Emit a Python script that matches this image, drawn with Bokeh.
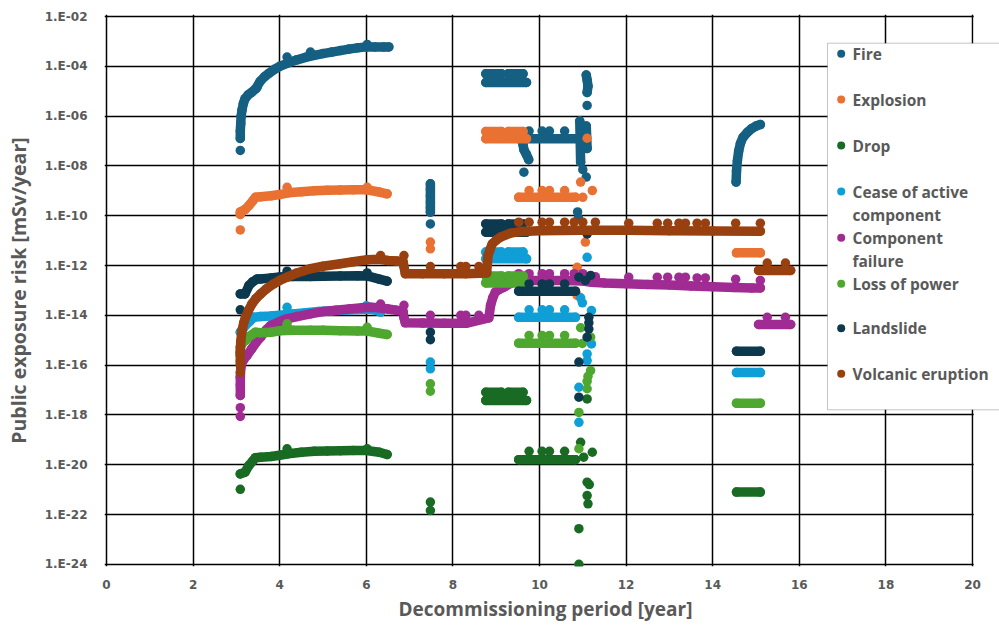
import math
from bokeh.plotting import figure
from bokeh.models import Range1d, FixedTicker, CustomJSTickFormatter, BoxAnnotation, Label, Title
from bokeh.embed import file_html
from bokeh.resources import INLINE

N = float("nan")

# ---------------- data (x in years, y as log10 of risk) ----------------
SERIES = ["Fire", "Explosion", "Drop", "Cease of active component", "Component failure",
          "Loss of power", "Landslide", "Volcanic eruption"]
COLORS = ["#156082", "#E97132", "#196B24", "#0F9ED5", "#A02B93", "#4EA72E", "#0D394E", "#994010"]

FIRE_RUN_X = [3.09, 3.09, 3.10, 3.11, 3.13, 3.16, 3.20, 3.27, 3.35, 3.45, 3.55, 3.65, 3.75, 3.88, 4.0, 4.2, 4.4,
              4.6, 4.8, 5.0, 5.2, 5.4, 5.6, 5.8, 6.0, 6.2, 6.4, 6.52, N,
              7.48, 7.48, 7.48, 7.48, 7.48, 7.48, N,
              8.76, 9.12, N, 9.28, 9.62, N, 8.76, 9.70, N,
              9.52, 10.87, N,
              9.60, 9.62, 9.64, 9.70, 9.75, N,
              10.93, 10.94, 10.95, N, 11.08, 11.10, N,
              11.08, 11.10, 11.12, 11.10, N,
              14.54, 14.55, 14.57, 14.60, 14.64, 14.70, 14.80, 14.90, 15.00, 15.10]
FIRE_RUN_LOG = [-6.9, -6.6, -6.3, -6.0, -5.75, -5.5, -5.3, -5.15, -5.05, -4.9, -4.6, -4.42, -4.28, -4.12, -4.0,
                -3.86, -3.74, -3.64, -3.56, -3.49, -3.43, -3.37, -3.31, -3.26, -3.22, -3.22, -3.22, -3.22, N,
                -8.72, -8.95, -9.2, -9.45, -9.68, -9.86, N,
                -4.3, -4.3, N, -4.3, -4.3, N, -4.65, -4.65, N,
                -6.91, -6.91, N,
                -6.95, -7.15, -7.35, -7.55, -7.75, N,
                -6.2, -7.0, -7.85, N, -6.4, -7.3, N,
                -4.35, -4.55, -4.8, -5.05, N,
                -8.65, -8.2, -7.8, -7.4, -7.1, -6.85, -6.65, -6.5, -6.4, -6.34]
FIRE_DOT_X = [3.09, 3.48, 4.17, 4.71, 6.02, 7.48, 9.76, 10.06, 10.23, 10.58, 9.64, 11.0, 11.08, 10.88, 10.9, 11.1]
FIRE_DOT_LOG = [-7.38, -4.84, -3.63, -3.43, -3.12, -10.33, -6.6, -6.6, -6.6, -6.6, -8.25, -8.15, -8.45, -9.85,
                -10.1, -5.57]

EXPL_RUN_X = [3.09, 3.09, 3.2, 3.29, 3.38, 3.44, 3.56, 3.8, 4.0, 4.2, 4.5, 4.8, 5.1, 5.4, 5.7, 6.0, 6.3, 6.48, N,
              8.76, 9.12, N, 9.28, 9.62, N, 8.76, 9.70, N,
              9.52, 10.83, N,
              14.55, 15.10]
EXPL_RUN_LOG = [-9.95, -9.85, -9.75, -9.59, -9.4, -9.26, -9.24, -9.2, -9.15, -9.08, -9.04, -9.0, -8.98, -8.97,
                -8.96, -8.96, -9.05, -9.12, N,
                -6.62, -6.62, N, -6.62, -6.62, N, -6.91, -6.91, N,
                -9.26, -9.26, N,
                -11.49, -11.49]
EXPL_DOT_X = [3.09, 4.17, 6.02, 7.48, 7.48, 9.76, 10.06, 10.23, 10.58, 11.1, 10.95, 11.22, 11.0, 11.06, 10.87, 10.87]
EXPL_DOT_LOG = [-10.57, -8.86, -8.86, -11.06, -11.33, -8.99, -8.99, -8.99, -8.99, -6.89, -8.65, -8.99, -9.26,
                -11.06, -12.07, -13.2]

DROP_RUN_X = [3.09, 3.2, 3.29, 3.38, 3.44, 3.56, 3.8, 4.0, 4.2, 4.5, 4.8, 5.1, 5.4, 5.7, 6.0, 6.3, 6.48, N,
              8.76, 9.12, N, 9.28, 9.62, N, 8.76, 9.70, N,
              9.52, 10.83, N,
              14.55, 15.10]
DROP_RUN_LOG = [-20.37, -20.3, -20.03, -19.85, -19.72, -19.7, -19.67, -19.62, -19.56, -19.5, -19.46, -19.45,
                -19.44, -19.43, -19.43, -19.5, -19.59, N,
                -17.09, -17.09, N, -17.09, -17.09, N, -17.42, -17.42, N,
                -19.8, -19.8, N,
                -21.1, -21.1]
DROP_DOT_X = [3.09, 4.17, 6.02, 7.48, 7.48, 9.76, 10.06, 10.23, 10.58, 11.1, 10.95, 11.02, 11.22, 11.1, 11.15,
              11.1, 11.12, 10.91, 10.91]
DROP_DOT_LOG = [-20.99, -19.36, -19.36, -21.5, -21.84, -19.46, -19.46, -19.46, -19.46, -17.36, -19.1, -19.7,
                -19.5, -20.7, -20.8, -21.24, -21.57, -22.57, -24.0]

CEASE_RUN_X = [3.09, 3.15, 3.21, 3.3, 3.4, 3.56, 3.8, 4.0, 4.3, 4.6, 4.9, 5.2, 5.5, 5.8, 6.0, 6.2, 6.33, N,
               8.76, 9.12, N, 9.28, 9.62, N, 8.76, 9.70, N,
               9.52, 10.83, N,
               14.55, 15.10]
CEASE_RUN_LOG = [-14.68, -14.55, -14.41, -14.25, -14.08, -14.05, -14.03, -14.0, -13.95, -13.9, -13.85, -13.82,
                 -13.8, -13.77, -13.75, -13.78, -13.87, N,
                 -11.46, -11.46, N, -11.46, -11.46, N, -11.73, -11.73, N,
                 -14.08, -14.08, N,
                 -16.3, -16.3]
CEASE_DOT_X = [4.17, 6.0, 7.48, 7.48, 9.76, 10.06, 10.23, 10.58, 11.1, 10.95, 10.99, 11.2, 11.2, 11.1, 11.1,
               10.91, 10.91]
CEASE_DOT_LOG = [-13.68, -13.62, -15.88, -16.15, -13.78, -13.78, -13.78, -13.78, -11.67, -13.3, -13.5, -13.81,
                 -15.15, -15.55, -15.82, -16.89, -18.3]

CF_RUN_X = [3.09, 3.09, 3.09, 3.1, 3.13, 3.18, 3.25, 3.35, 3.45, 3.56, 3.68, 3.79, 4.0, 4.17, 4.4, 4.71, 5.0, 5.3,
            5.6, 5.9, 6.1, 6.3, 6.5, 6.7, 6.85, 6.87, 6.9, 7.3, 7.8, 8.3, 8.83, 8.87, 8.92, 8.98, 9.08, 9.18,
            9.33, 9.48, 9.7, 10.0, 10.5, 11.0, 11.2, 11.5, 12.0, 12.5, 13.0, 13.5, 14.0, 14.5, 14.9, 15.1, N,
            15.06, 15.8]
CF_RUN_LOG = [-17.22, -16.8, -16.49, -16.15, -15.9, -15.75, -15.6, -15.35, -15.1, -14.88, -14.6, -14.41, -14.25,
              -14.14, -14.05, -13.94, -13.85, -13.8, -13.75, -13.7, -13.68, -13.7, -13.75, -13.8, -13.85, -14.1,
              -14.3, -14.31, -14.32, -14.32, -14.1, -13.6, -13.3, -13.07, -12.95, -12.87, -12.72, -12.62, -12.6,
              -12.6, -12.6, -12.62, -12.67, -12.7, -12.73, -12.76, -12.78, -12.82, -12.85, -12.88, -12.9, -12.9, N,
              -14.37, -14.37]
CF_DOT_X = [3.09, 3.09, 6.33, 6.87, 7.48, 8.18, 8.3, 8.6, 9.52, 9.76, 10.06, 10.23, 10.58, 10.8, 11.0, 11.29,
            12.06, 12.72, 12.96, 13.22, 13.37, 13.64, 13.83, 14.53, 15.1, 15.26, 15.68]
CF_DOT_LOG = [-17.71, -18.06, -13.55, -13.6, -14.0, -14.0, -14.0, -14.0, -12.33, -12.33, -12.33, -12.33, -12.33,
              -12.33, -12.33, -12.45, -12.47, -12.47, -12.47, -12.47, -12.47, -12.5, -12.5, -12.55, -12.6,
              -14.08, -14.08]

LP_RUN_X = [3.09, 3.09, 3.15, 3.21, 3.3, 3.44, 3.56, 3.8, 4.0, 4.3, 4.71, 5.0, 5.4, 5.8, 6.02, 6.3, 6.48, N,
            8.76, 9.12, N, 9.28, 9.62, N, 8.76, 9.70, N,
            9.52, 10.83, N,
            14.55, 15.10]
LP_RUN_LOG = [-15.6, -15.28, -15.1, -15.01, -14.85, -14.68, -14.7, -14.68, -14.62, -14.6, -14.6, -14.6, -14.62,
              -14.63, -14.63, -14.72, -14.77, N,
              -12.42, -12.42, N, -12.42, -12.42, N, -12.7, -12.7, N,
              -15.12, -15.12, N,
              -17.53, -17.53]
LP_DOT_X = [3.09, 4.17, 6.02, 7.48, 7.48, 9.76, 10.06, 10.23, 10.58, 10.95, 11.18, 10.99, 11.18, 11.12, 11.1,
            11.1, 10.91, 10.91]
LP_DOT_LOG = [-15.84, -14.34, -14.48, -16.75, -17.05, -14.81, -14.81, -14.81, -14.81, -14.5, -14.88, -15.13,
              -16.22, -16.45, -16.65, -16.95, -17.9, -19.36]

LS_RUN_X = [3.09, 3.2, 3.29, 3.38, 3.48, 3.56, 3.8, 4.0, 4.3, 4.71, 5.0, 5.4, 5.8, 6.02, 6.3, 6.48, N,
            8.76, 9.12, N, 9.28, 9.62, N, 8.76, 9.70, N,
            9.52, 10.83, N,
            14.55, 15.10]
LS_RUN_LOG = [-13.14, -13.14, -12.8, -12.65, -12.54, -12.54, -12.5, -12.46, -12.44, -12.44, -12.43, -12.42,
              -12.41, -12.42, -12.55, -12.63, N,
              -10.33, -10.33, N, -10.33, -10.33, N, -10.66, -10.66, N,
              -13.03, -13.03, N,
              -15.44, -15.44]
LS_DOT_X = [3.09, 4.17, 6.02, 7.48, 7.48, 9.76, 10.06, 10.23, 10.58, 10.91, 11.18, 11.06, 11.14, 11.14, 11.14,
            11.1, 10.91, 10.91, 11.1]
LS_DOT_LOG = [-13.78, -12.23, -12.3, -14.68, -14.98, -12.74, -12.74, -12.74, -12.74, -12.47, -12.4, -12.6,
              -14.08, -14.3, -14.55, -14.88, -15.88, -17.29, -10.73]

VE_RUN_X = [3.09, 3.09, 3.1, 3.13, 3.17, 3.21, 3.28, 3.36, 3.45, 3.56, 3.7, 3.86, 4.0, 4.17, 4.4, 4.71, 5.0, 5.4,
            5.7, 6.02, 6.3, 6.5, 6.7, 6.85, 6.87, 6.9, 7.3, 7.8, 8.3, 8.78, 8.81, 8.86, 8.91, 9.0, 9.1, 9.33, 9.6,
            10.0, 11.0, 12.0, 13.0, 14.0, 15.1, N,
            15.06, 15.8]
VE_RUN_LOG = [-16.0, -15.48, -15.05, -14.61, -14.3, -14.08, -13.8, -13.54, -13.33, -13.14, -12.93, -12.74, -12.6,
              -12.47, -12.3, -12.13, -12.03, -11.93, -11.85, -11.77, -11.75, -11.8, -11.82, -11.85, -12.05,
              -12.33, -12.33, -12.33, -12.33, -12.3, -11.6, -11.35, -11.13, -10.98, -10.86, -10.7, -10.63, -10.6,
              -10.58, -10.58, -10.6, -10.61, -10.62, N,
              -12.2, -12.2]
VE_DOT_X = [3.09, 6.33, 6.87, 7.48, 8.18, 8.3, 8.6, 9.52, 9.76, 10.06, 10.23, 10.58, 10.8, 11.0, 11.29, 12.06,
            12.72, 12.96, 13.22, 13.37, 13.64, 13.83, 14.53, 15.1, 15.26, 15.68]
VE_DOT_LOG = [-16.29, -11.6, -11.6, -12.04, -12.04, -12.04, -12.04, -10.26, -10.26, -10.26, -10.26, -10.26,
              -10.26, -10.26, -10.26, -10.3, -10.3, -10.3, -10.3, -10.3, -10.3, -10.3, -10.3, -10.3, -11.9, -11.9]

X_TICKS = [0, 2, 4, 6, 8, 10, 12, 14, 16, 18, 20]
Y_TICK_EXPONENTS = [-24, -22, -20, -18, -16, -14, -12, -10, -8, -6, -4, -2]

RUNS = [(FIRE_RUN_X, FIRE_RUN_LOG, FIRE_DOT_X, FIRE_DOT_LOG),
        (EXPL_RUN_X, EXPL_RUN_LOG, EXPL_DOT_X, EXPL_DOT_LOG),
        (DROP_RUN_X, DROP_RUN_LOG, DROP_DOT_X, DROP_DOT_LOG),
        (CEASE_RUN_X, CEASE_RUN_LOG, CEASE_DOT_X, CEASE_DOT_LOG),
        (CF_RUN_X, CF_RUN_LOG, CF_DOT_X, CF_DOT_LOG),
        (LP_RUN_X, LP_RUN_LOG, LP_DOT_X, LP_DOT_LOG),
        (LS_RUN_X, LS_RUN_LOG, LS_DOT_X, LS_DOT_LOG),
        (VE_RUN_X, VE_RUN_LOG, VE_DOT_X, VE_DOT_LOG)]


def pw(vals):
    return [N if (isinstance(v, float) and math.isnan(v)) else 10.0 ** v for v in vals]


# ---------------- layout (pixels on the page) ----------------
X0_PX, PX_PER_X = 106.0, 43.3          # x = 0 at 106 px, 43.3 px per year
Y0_PX, PX_PER_DEC = 16.0, 24.9         # 1E-02 at 16 px, 24.9 px per decade
FRAME_L, FRAME_R, FRAME_T, FRAME_B = 104, 999, 14, 566


def px_to_x(px):
    return (px - X0_PX) / PX_PER_X


def py_to_y(py):
    return 10.0 ** (-2.0 - (py - Y0_PX) / PX_PER_DEC)


p = figure(width=999, height=628,
           x_range=Range1d(px_to_x(FRAME_L), px_to_x(FRAME_R)),
           y_range=Range1d(py_to_y(FRAME_B), py_to_y(FRAME_T)),
           y_axis_type="log", output_backend="svg", toolbar_location=None,
           min_border_left=FRAME_L, min_border_right=999 - FRAME_R, min_border_top=FRAME_T,
           min_border_bottom=628 - FRAME_B)
p.outline_line_color = None

p.xaxis.ticker = FixedTicker(ticks=X_TICKS)
p.yaxis.ticker = FixedTicker(ticks=[10.0 ** e for e in Y_TICK_EXPONENTS])
p.yaxis.formatter = CustomJSTickFormatter(code="""
const e = Math.round(Math.log10(tick));
const a = Math.abs(e);
return "1.E" + (e < 0 ? "-" : "+") + (a < 10 ? "0" + a : "" + a);
""")

for g in (p.xgrid, p.ygrid):
    g.grid_line_color = "black"
    g.grid_line_width = 1.5
    g.minor_grid_line_color = None

for ax in (p.xaxis, p.yaxis):
    ax.axis_line_color = None
    ax.major_tick_line_color = None
    ax.minor_tick_line_color = None
    ax.major_tick_out = 0
    ax.major_tick_in = 0
    ax.minor_tick_out = 0
    ax.major_label_text_font = "DejaVu Sans"
    ax.major_label_text_font_style = "bold"
    ax.major_label_text_font_size = "12px"
    ax.major_label_text_color = "#595959"
    ax.axis_label_text_font = "Open Sans"
    ax.axis_label_text_font_style = "bold"
    ax.axis_label_text_color = "#595959"

p.yaxis.axis_label = "Public exposure risk [mSv/year]"
p.yaxis.axis_label_text_font_size = "19.5px"
p.xaxis.major_label_standoff = 13
p.yaxis.major_label_standoff = 17
p.yaxis.axis_label_standoff = 10

xt = Title(text="Decommissioning period [year]", align="left", offset=398 - FRAME_L,
           text_font="Open Sans", text_font_style="bold", text_font_size="19px", text_color="#595959",
           standoff=5)
p.add_layout(xt, "below")

# white cover right of x = 20 (the frame runs on to the page edge for the legend)
cover = BoxAnnotation(left=px_to_x(973.2), right=px_to_x(1100), top=1.0, bottom=1e-30,
                      fill_color="white", fill_alpha=1.0, line_color=None, level="underlay")
p.add_layout(cover)

# ---------------- data marks ----------------
for (rx, rl, dx, dl), col in zip(RUNS, COLORS):
    ry = pw(rl)
    p.line(rx, ry, line_color=col, line_width=9.5, line_cap="round", line_join="round")
    p.scatter(rx, ry, size=9.5, fill_color=col, line_color=col, line_width=0)
    p.scatter(dx, pw(dl), size=9.5, fill_color=col, line_color=col, line_width=0)

# ---------------- legend (hand drawn) ----------------
box = BoxAnnotation(left=px_to_x(827), right=px_to_x(1040), top=py_to_y(42.7), bottom=py_to_y(409.3),
                    fill_color="white", fill_alpha=1.0, line_color="#404040", line_width=1,
                    level="underlay")
p.add_layout(box)

legend_rows = [53.3, 99.0, 145.0, 191.0, 237.3, 283.3, 327.7, 373.3]
legend_lines = [["Fire"], ["Explosion"], ["Drop"], ["Cease of active", "component"],
                ["Component", "failure"], ["Loss of power"], ["Landslide"], ["Volcanic eruption"]]
p.scatter([px_to_x(840.7)] * 8, [py_to_y(r) for r in legend_rows], size=8,
          fill_color=COLORS, line_color=COLORS, line_width=0)
for row, lines in zip(legend_rows, legend_lines):
    for k, t in enumerate(lines):
        p.add_layout(Label(x=px_to_x(852), y=py_to_y(row + 23.5 * k), text=t, text_baseline="middle",
                           text_align="left", text_font="Open Sans", text_font_style="bold",
                           text_font_size="15.5px", text_color="#595959"))

open("out.html", "w").write(file_html(p, INLINE))
